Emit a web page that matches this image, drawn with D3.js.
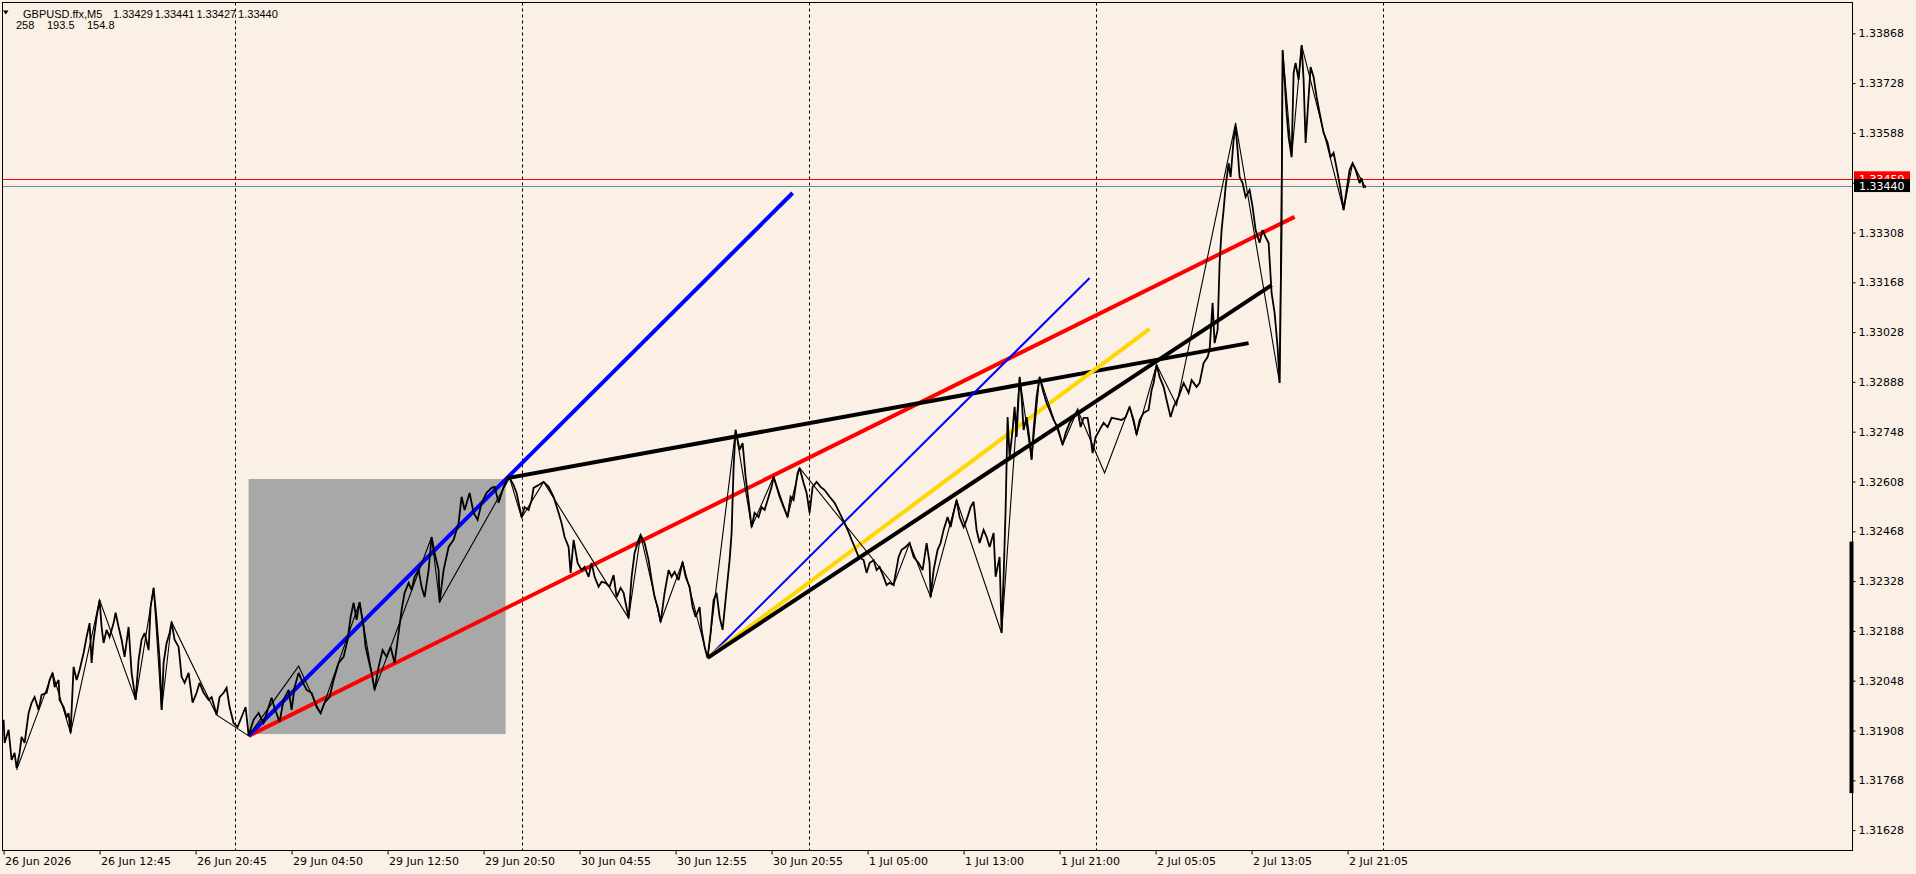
<!DOCTYPE html>
<html>
<head>
<meta charset="utf-8">
<script src="https://cdn.jsdelivr.net/npm/d3@7"></script>
<style>
    html, body { margin: 0; padding: 0; background: #faf0e6; overflow: hidden; }
    svg { display: block; font-family: "DejaVu Sans", sans-serif; }
</style>
</head>
<body>
<svg id="chart" width="1916" height="874"></svg>
<script>
// M5 close line, [bar index, price]
const closeLine = [
    [0,1.31938],[1,1.31873],[5,1.31910],[8,1.31825],[11,1.31845],[13,1.31803],[16,1.31845],[18,1.31890],
    [21,1.31873],[25,1.31957],[28,1.31986],[31,1.32002],[35,1.31966],[38,1.32008],[43,1.32014],[46,1.32050],
    [49,1.32070],[51,1.32030],[55,1.32050],[56,1.31994],[60,1.31974],[63,1.31946],[65,1.31957],[67,1.31901],
    [70,1.32087],[73,1.32050],[76,1.32078],[80,1.32126],[83,1.32171],[86,1.32210],[88,1.32098],[90,1.32163],
    [93,1.32227],[96,1.32275],[98,1.32199],[100,1.32154],[103,1.32191],[106,1.32171],[110,1.32210],[112,1.32239],
    [115,1.32199],[118,1.32163],[121,1.32115],[125,1.32199],[128,1.32070],[132,1.31994],[135,1.32106],[138,1.32163],
    [141,1.32182],[145,1.32134],[147,1.32255],[150,1.32309],[153,1.32219],[156,1.32106],[158,1.31966],[160,1.32098],
    [163,1.32154],[166,1.32182],[168,1.32213],[171,1.32163],[175,1.32143],[178,1.32059],[181,1.32042],[185,1.32070],
    [189,1.31986],[193,1.32014],[196,1.32042],[200,1.32014],[205,1.31994],[208,1.32002],[213,1.31952],[216,1.32002],
    [220,1.32014],[223,1.32028],[226,1.31974],[230,1.31929],[234,1.31918],[238,1.31946],[242,1.31974],[245,1.31895],
    [250,1.31938],[255,1.31957],[260,1.31929],[265,1.31974],[268,1.32000],[271,1.31971],[276,1.31932],[280,1.31994],
    [285,1.32022],[288,1.31966],[291,1.32030],[295,1.32070],[298,1.32050],[303,1.32022],[308,1.32014],[313,1.31974],
    [317,1.31957],[321,1.31986],[326,1.32002],[330,1.32050],[335,1.32098],[340,1.32115],[344,1.32163],[347,1.32227],
    [350,1.32267],[353,1.32219],[356,1.32269],[360,1.32199],[362,1.32143],[365,1.32106],[368,1.32070],[371,1.32022],
    [375,1.32087],[379,1.32134],[383,1.32115],[387,1.32143],[391,1.32098],[395,1.32182],[398,1.32247],[401,1.32295],
    [405,1.32323],[408,1.32303],[411,1.32340],[415,1.32359],[418,1.32312],[421,1.32283],[425,1.32359],[428,1.32452],
    [431,1.32407],[435,1.32359],[436,1.32269],[440,1.32359],[445,1.32424],[450,1.32444],[455,1.32491],[458,1.32565],
    [461,1.32528],[466,1.32576],[470,1.32520],[474,1.32500],[478,1.32548],[483,1.32576],[488,1.32590],[491,1.32593],
    [495,1.32548],[500,1.32593],[503,1.32612],[506,1.32618],[510,1.32598],[513,1.32576],[518,1.32508],[521,1.32536],
    [525,1.32528],[528,1.32556],[530,1.32590],[535,1.32598],[540,1.32607],[545,1.32593],[550,1.32565],[555,1.32520],
    [558,1.32491],[561,1.32452],[565,1.32424],[567,1.32351],[570,1.32444],[574,1.32379],[578,1.32359],[581,1.32368],
    [585,1.32340],[588,1.32379],[591,1.32340],[595,1.32312],[598,1.32326],[602,1.32323],[606,1.32312],[610,1.32345],
    [613,1.32283],[617,1.32309],[620,1.32295],[625,1.32224],[628,1.32340],[631,1.32407],[635,1.32444],[637,1.32458],
    [641,1.32435],[645,1.32387],[648,1.32331],[651,1.32283],[654,1.32255],[657,1.32213],[661,1.32295],[665,1.32359],
    [668,1.32340],[671,1.32354],[675,1.32331],[679,1.32382],[682,1.32340],[686,1.32312],[689,1.32255],[692,1.32227],
    [696,1.32255],[698,1.32191],[701,1.32143],[704,1.32112],[707,1.32182],[710,1.32275],[713,1.32295],[716,1.32227],
    [719,1.32191],[722,1.32275],[726,1.32387],[728,1.32463],[730,1.32649],[732,1.32753],[736,1.32697],[739,1.32716],
    [742,1.32621],[746,1.32528],[748,1.32480],[751,1.32520],[755,1.32508],[758,1.32536],[761,1.32528],[765,1.32565],
    [768,1.32593],[770,1.32621],[773,1.32593],[776,1.32565],[780,1.32536],[784,1.32508],[787,1.32565],[790,1.32556],
    [794,1.32632],[796,1.32646],[800,1.32604],[803,1.32576],[806,1.32520],[809,1.32593],[813,1.32607],[817,1.32593],
    [821,1.32584],[826,1.32565],[831,1.32548],[836,1.32520],[841,1.32491],[845,1.32466],[848,1.32444],[851,1.32424],
    [855,1.32396],[860,1.32387],[863,1.32351],[866,1.32379],[870,1.32387],[873,1.32359],[876,1.32368],[880,1.32340],
    [883,1.32317],[886,1.32323],[890,1.32317],[895,1.32396],[898,1.32416],[902,1.32424],[906,1.32435],[910,1.32396],
    [915,1.32379],[919,1.32359],[923,1.32435],[926,1.32379],[927,1.32283],[930,1.32359],[934,1.32416],[937,1.32435],
    [940,1.32472],[944,1.32508],[947,1.32480],[950,1.32520],[953,1.32556],[956,1.32508],[960,1.32480],[963,1.32500],
    [967,1.32536],[970,1.32551],[973,1.32472],[976,1.32435],[980,1.32472],[983,1.32452],[986,1.32424],[990,1.32463],
    [992,1.32340],[996,1.32396],[998,1.32182],[1000,1.32340],[1002,1.32528],[1004,1.32789],[1006,1.32677],[1009,1.32753],
    [1011,1.32818],[1013,1.32733],[1016,1.32902],[1018,1.32846],[1020,1.32753],[1023,1.32789],[1026,1.32725],[1028,1.32669],
    [1030,1.32753],[1033,1.32846],[1036,1.32902],[1040,1.32857],[1043,1.32829],[1046,1.32809],[1050,1.32781],[1054,1.32761],
    [1059,1.32711],[1062,1.32744],[1066,1.32773],[1070,1.32789],[1074,1.32809],[1077,1.32761],[1080,1.32787],[1084,1.32787],
    [1086,1.32753],[1089,1.32688],[1092,1.32733],[1096,1.32753],[1100,1.32773],[1104,1.32761],[1108,1.32787],[1113,1.32784],
    [1118,1.32781],[1122,1.32789],[1126,1.32818],[1130,1.32781],[1133,1.32739],[1136,1.32781],[1140,1.32801],[1145,1.32809],
    [1148,1.32865],[1150,1.32885],[1153,1.32936],[1156,1.32902],[1160,1.32874],[1163,1.32837],[1167,1.32789],[1170,1.32818],
    [1175,1.32846],[1180,1.32885],[1185,1.32857],[1188,1.32893],[1193,1.32874],[1196,1.32885],[1200,1.32941],[1204,1.32958],
    [1206,1.32978],[1209,1.33110],[1211,1.32997],[1214,1.33034],[1216,1.33222],[1218,1.33315],[1220,1.33371],[1222,1.33436],
    [1225,1.33503],[1227,1.33464],[1230,1.33568],[1232,1.33605],[1234,1.33540],[1236,1.33464],[1239,1.33447],[1242,1.33408],
    [1246,1.33428],[1249,1.33380],[1252,1.33315],[1256,1.33279],[1259,1.33315],[1262,1.33295],[1265,1.33279],[1268,1.33138],
    [1271,1.33082],[1274,1.32986],[1276,1.32885],[1278,1.33315],[1279,1.33821],[1281,1.33737],[1283,1.33644],[1285,1.33577],
    [1288,1.33520],[1290,1.33756],[1292,1.33785],[1295,1.33737],[1298,1.33835],[1300,1.33737],[1302,1.33560],[1305,1.33689],
    [1307,1.33773],[1310,1.33745],[1313,1.33689],[1316,1.33644],[1320,1.33588],[1324,1.33560],[1327,1.33520],[1330,1.33532],
    [1334,1.33475],[1337,1.33428],[1340,1.33371],[1343,1.33428],[1346,1.33484],[1349,1.33503],[1352,1.33484],[1356,1.33447],
    [1358,1.33461],[1360,1.33436],[1362,1.33440]
];

// zigzag swings, [bar index, price]
const zigzag = [
    [13,1.31797],[49,1.32070],[67,1.31901],[96,1.32275],[132,1.31994],[150,1.32309],[158,1.31966],[168,1.32213],
    [213,1.31952],[245,1.31893],[295,1.32089],[317,1.31955],[356,1.32269],[371,1.32022],[428,1.32452],[436,1.32269],
    [506,1.32618],[518,1.32506],[540,1.32607],[625,1.32224],[637,1.32458],[657,1.32213],[679,1.32382],[704,1.32112],
    [732,1.32753],[748,1.32480],[770,1.32621],[784,1.32508],[796,1.32646],[890,1.32317],[906,1.32435],[927,1.32283],
    [953,1.32556],[998,1.32182],[1016,1.32902],[1028,1.32669],[1036,1.32902],[1059,1.32711],[1074,1.32809],[1101,1.32632],
    [1126,1.32818],[1133,1.32739],[1153,1.32936],[1173,1.32823],[1232,1.33616],[1276,1.32885],[1279,1.33821],[1288,1.33520],
    [1298,1.33835],[1340,1.33371],[1349,1.33503],[1362,1.33433]
];

// trend lines, [bar index, price] pairs
const blueTrend = [[245,1.31893],[789,1.33419]];
const redTrend = [[245,1.31893],[1291,1.33352]];
const upperBlackTrend = [[503,1.32617],[1245,1.32997]];
const thinBlueTrend = [[704,1.32112],[1086,1.33180]];
const goldTrend = [[704,1.32112],[1146,1.33037]];
const lowerBlackTrend = [[704,1.32112],[1268,1.33160]];

// shaded box: [bar, price] corners
const zoneBox = [[245,1.32615],[502,1.31898]];

const alertLevel = 1.33459;
const bidLevel = 1.33440;

const priceTicks = [1.33868,1.33728,1.33588,1.33448,1.33308,1.33168,1.33028,1.32888,
                    1.32748,1.32608,1.32468,1.32328,1.32188,1.32048,1.31908,1.31768,1.31628];
const timeTickBars = [0,96,192,288,384,480,576,672,768,864,960,1056,1152,1248,1344];
const timeTickLabels = ["26 Jun 2026","26 Jun 12:45","26 Jun 20:45","29 Jun 04:50","29 Jun 12:50",
                        "29 Jun 20:50","30 Jun 04:55","30 Jun 12:55","30 Jun 20:55","1 Jul 05:00",
                        "1 Jul 13:00","1 Jul 21:00","2 Jul 05:05","2 Jul 13:05","2 Jul 21:05"];
const separatorBars = [231,518,805,1092,1379];
const scrollMark = [1.32439,1.31732];

const headerSymbol = "GBPUSD.ffx,M5";
const headerQuote = ["1.33429","1.33441","1.33427","1.33440"];
const headerStats = ["258","193.5","154.8"];

const svg = d3.select("#chart");
const plotLeft = 2.5, plotTop = 2.5, plotRight = 1852.5, plotBottom = 850.5;

const x = d3.scaleLinear().domain([0, 1849]).range([3.6, 1852.6]);
const y = d3.scaleLinear().domain([1.31628, 1.33868]).range([830.1, 33.3]);

svg.append("rect").attr("width", 1916).attr("height", 874).attr("fill", "#faf0e6");

const defs = svg.append("defs");
defs.append("clipPath").attr("id", "plot-clip")
    .append("rect").attr("x", plotLeft).attr("y", plotTop)
    .attr("width", plotRight - plotLeft).attr("height", plotBottom - plotTop);

const plot = svg.append("g").attr("clip-path", "url(#plot-clip)");

// day separators
plot.selectAll("line.sep")
    .data(separatorBars)
    .enter().append("line")
    .attr("class", "sep")
    .attr("x1", d => Math.round(x(d)) + 0.5).attr("x2", d => Math.round(x(d)) + 0.5)
    .attr("y1", plotTop).attr("y2", plotBottom)
    .attr("stroke", "#000").attr("stroke-width", 1)
    .attr("stroke-dasharray", "3,3");

// shaded box
plot.append("rect")
    .attr("x", x(zoneBox[0][0]))
    .attr("y", y(zoneBox[0][1]))
    .attr("width", x(zoneBox[1][0]) - x(zoneBox[0][0]))
    .attr("height", y(zoneBox[1][1]) - y(zoneBox[0][1]))
    .attr("fill", "#a8a8a8");

// horizontal levels
plot.append("line")
    .attr("x1", plotLeft).attr("x2", plotRight)
    .attr("y1", Math.round(y(alertLevel)) + 0.5).attr("y2", Math.round(y(alertLevel)) + 0.5)
    .attr("stroke", "#ff0000").attr("stroke-width", 1);
plot.append("line")
    .attr("x1", plotLeft).attr("x2", plotRight)
    .attr("y1", Math.round(y(bidLevel)) + 0.5).attr("y2", Math.round(y(bidLevel)) + 0.5)
    .attr("stroke", "#778899").attr("stroke-width", 1);

const line = d3.line().x(d => x(d[0])).y(d => y(d[1]));

// trend lines
const trends = [
    { pts: redTrend, color: "#ff0000", w: 4 },
    { pts: blueTrend, color: "#0000ff", w: 4 },
    { pts: upperBlackTrend, color: "#000000", w: 4 },
    { pts: thinBlueTrend, color: "#0000ff", w: 2 },
    { pts: goldTrend, color: "#ffd700", w: 4 },
    { pts: lowerBlackTrend, color: "#000000", w: 4 }
];
trends.forEach(t => {
    plot.append("path")
        .attr("d", line(t.pts))
        .attr("fill", "none")
        .attr("stroke", t.color)
        .attr("stroke-width", t.w);
});

// price line and zigzag
plot.append("path")
    .attr("d", line(closeLine))
    .attr("fill", "none")
    .attr("stroke", "#000")
    .attr("stroke-width", 1.8)
    .attr("stroke-linejoin", "miter")
    .attr("stroke-miterlimit", 3);

plot.append("path")
    .attr("d", line(zigzag))
    .attr("fill", "none")
    .attr("stroke", "#000")
    .attr("stroke-width", 1.1);

// frame
svg.append("rect")
    .attr("x", plotLeft).attr("y", plotTop)
    .attr("width", plotRight - plotLeft).attr("height", plotBottom - plotTop)
    .attr("fill", "none").attr("stroke", "#000").attr("stroke-width", 1);

// price axis
const yAxis = svg.append("g")
    .attr("transform", `translate(${plotRight},0)`)
    .call(d3.axisRight(y).tickValues(priceTicks).tickFormat(d3.format(".5f")).tickSize(3).tickSizeOuter(0));
yAxis.select(".domain").remove();
yAxis.selectAll("text").attr("font-size", 11).attr("font-family", "DejaVu Sans, sans-serif").attr("fill", "#000").attr("x", 6);

// time axis
const xAxis = svg.append("g")
    .attr("transform", `translate(0,${plotBottom})`)
    .call(d3.axisBottom(x).tickValues(timeTickBars).tickFormat((d, i) => timeTickLabels[i]).tickSize(4).tickSizeOuter(0));
xAxis.select(".domain").remove();
xAxis.selectAll("text")
    .attr("text-anchor", "start")
    .attr("x", 1)
    .attr("font-size", 11).attr("font-family", "DejaVu Sans, sans-serif").attr("fill", "#000");

// scroll marker on price axis
svg.append("rect")
    .attr("x", plotRight - 3).attr("y", y(scrollMark[0]))
    .attr("width", 4).attr("height", y(scrollMark[1]) - y(scrollMark[0]))
    .attr("fill", "#000");

// price tags: the alert tag sits half under the bid tag, so its text is cut at the bid tag's top
const bidTagTop = y(bidLevel) - 6.5;
defs.append("clipPath").attr("id", "alert-clip")
    .append("rect").attr("x", plotRight).attr("y", 0)
    .attr("width", 70).attr("height", bidTagTop);

function priceTag(level, bg, h, clip) {
    const cy = y(level);
    const g = svg.append("g");
    g.append("rect")
        .attr("x", plotRight + 1.5).attr("y", cy - h / 2)
        .attr("width", 56).attr("height", h)
        .attr("fill", bg);
    const t = g.append("text")
        .attr("x", plotRight + 6.5).attr("y", cy)
        .attr("dy", "0.36em")
        .attr("font-size", 11)
        .attr("fill", "#fff")
        .text(level.toFixed(5));
    if (clip) t.attr("clip-path", `url(#${clip})`);
}
priceTag(alertLevel, "#ff0000", 15, "alert-clip");
priceTag(bidLevel, "#000000", 13);

// header
const head = svg.append("g").attr("font-family", "Liberation Sans, Arial, sans-serif").attr("font-size", 11).attr("fill", "#000");
head.append("path").attr("d", "M3,10.5 L8.5,10.5 L5.75,14.5 Z").attr("fill", "#000");
head.append("text").attr("x", 23).attr("y", 18).text(headerSymbol);
headerQuote.forEach((q, i) => {
    head.append("text").attr("x", 113 + i * 41.7).attr("y", 18).text(q);
});
const statX = [16, 47, 87];
headerStats.forEach((s, i) => {
    head.append("text").attr("x", statX[i]).attr("y", 29).text(s);
});
</script>
</body>
</html>
